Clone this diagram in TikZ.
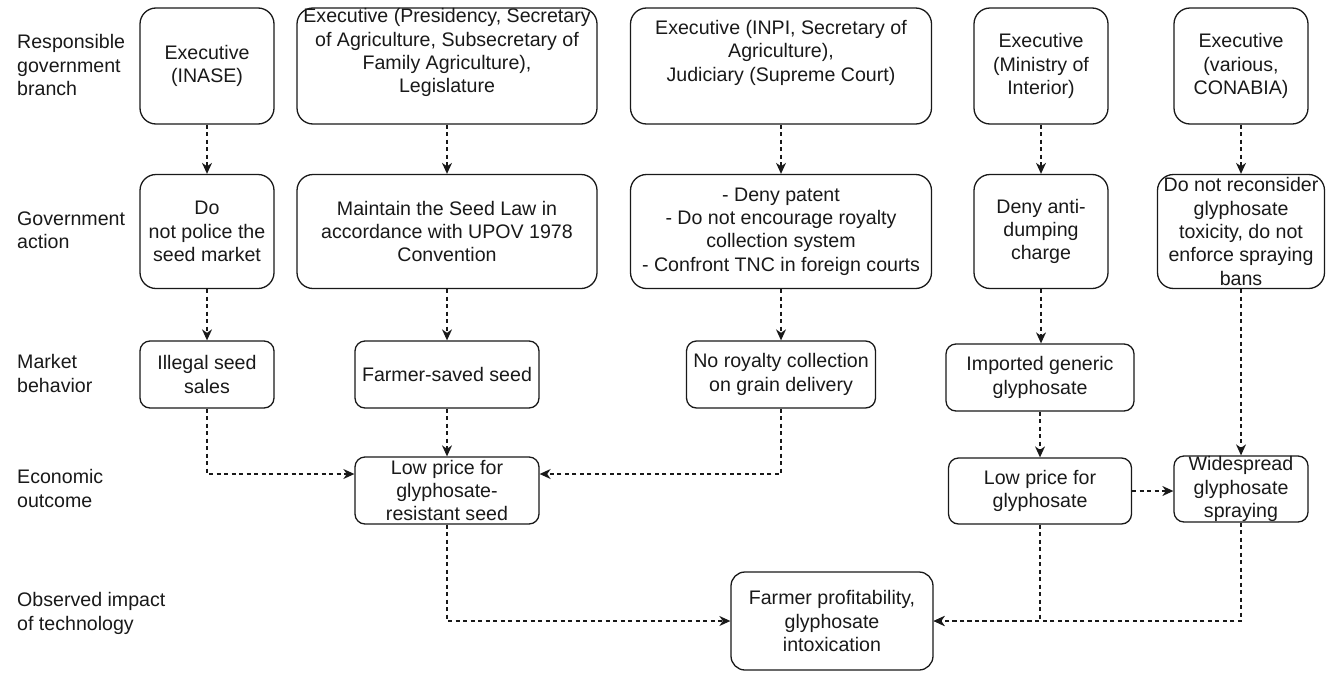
\documentclass[tikz,border=0pt]{standalone}
\usepackage{fontspec}
\setmainfont{Liberation Sans}
\usetikzlibrary{arrows.meta}
\begin{document}
\begin{tikzpicture}[x=1pt,y=-1pt,
  every node/.style={font=\fontsize{19.6}{23.4}\selectfont, text=black!90},
  box/.style={draw=black!90, line width=1.3pt, align=center, inner sep=0pt, rounded corners=16pt},
  lowbox/.style={box, rounded corners=10pt},
  rowlabel/.style={anchor=west, align=left, inner sep=0pt},
  link/.style={draw=black!90, line width=1.3pt, dash pattern=on 4pt off 3.5pt,
    -{Stealth[length=11pt,width=10pt,inset=3.5pt]}}
]
\useasboundingbox (0,0) rectangle (1335,672);

% row labels
\node[rowlabel] (l1) at (17,65) {Responsible\\government\\branch};
\node[rowlabel] (l2) at (17,230) {Government\\action};
\node[rowlabel] (l3) at (17,373.5) {Market\\behavior};
\node[rowlabel] (l4) at (17,488.5) {Economic\\outcome};
\node[rowlabel] (l5) at (17,613.5) {Observed impact\\of technology};

% row 1
\node[box, minimum width=134pt, minimum height=116pt] (a1) at (207,66) {Executive\\(INASE)};
\node[box, minimum width=300pt, minimum height=116pt] (b1) at (447,66) {Executive (Presidency, Secretary\\of Agriculture, Subsecretary of\\Family Agriculture),\\Legislature\\\strut};
\node[box, minimum width=301pt, minimum height=116pt] (c1) at (781,66) {Executive (INPI, Secretary of\\Agriculture),\\Judiciary (Supreme Court)\\\strut};
\node[box, minimum width=134pt, minimum height=116pt] (d1) at (1041,66) {Executive\\(Ministry of\\Interior)};
\node[box, minimum width=134pt, minimum height=116pt] (e1) at (1241,66) {Executive\\(various,\\CONABIA)};

% row 2
\node[box, minimum width=134pt, minimum height=114pt] (a2) at (207,231.5) {Do\\not police the\\seed market};
\node[box, minimum width=300pt, minimum height=114pt] (b2) at (447,231.5) {Maintain the Seed Law in\\accordance with UPOV 1978\\Convention};
\node[box, minimum width=301pt, minimum height=114pt] (c2) at (781,231.5) {- Deny patent\\- Do not encourage royalty\\collection system\\- Confront TNC in foreign courts};
\node[box, minimum width=134pt, minimum height=114pt] (d2) at (1041,231.5) {Deny anti-\\dumping\\charge};
\node[box, minimum width=167pt, minimum height=114pt] (e2) at (1241,231.5) {Do not reconsider\\glyphosate\\toxicity, do not\\enforce spraying\\bans};

% row 3
\node[lowbox, minimum width=134pt, minimum height=67pt] (a3) at (207,374.5) {Illegal seed\\sales};
\node[lowbox, minimum width=184pt, minimum height=67pt] (b3) at (447,374.5) {Farmer-saved seed};
\node[lowbox, minimum width=189pt, minimum height=67pt] (c3) at (781,374.5) {No royalty collection\\on grain delivery};
\node[lowbox, minimum width=188pt, minimum height=67pt] (d3) at (1040,377.5) {Imported generic\\glyphosate};

% row 4
\node[lowbox, minimum width=184pt, minimum height=67pt] (b4) at (447,490.5) {Low price for\\glyphosate-\\resistant seed};
\node[lowbox, minimum width=183pt, minimum height=66pt] (d4) at (1040,491) {Low price for\\glyphosate};
\node[lowbox, minimum width=134pt, minimum height=66pt] (e4) at (1241,489) {Widespread\\glyphosate\\spraying};

% row 5
\node[box, rounded corners=14pt, minimum width=202pt, minimum height=98pt] (f) at (832,621) {Farmer profitability,\\glyphosate\\intoxication};

% connectors
\draw[link] (a1) -- (a2);
\draw[link] (b1) -- (b2);
\draw[link] (c1) -- (c2);
\draw[link] (d1) -- (d2);
\draw[link] (e1) -- (e2);
\draw[link] (a2) -- (a3);
\draw[link] (b2) -- (b3);
\draw[link] (c2) -- (c3);
\draw[link] (d2.south) -- (d3.north -| d2.south);
\draw[link] (e2) -- (e4);
\draw[link] (b3) -- (b4);
\draw[link] (d3) -- (d4);
\coordinate (j1) at ([yshift=16.5pt]b4.west);
\coordinate (j2) at ([yshift=16.5pt]b4.east);
\draw[link] (a3.south) |- (j1);
\draw[link] (c3.south) |- (j2);
\draw[link] (d4.east) -- (e4.west |- d4.east);
\draw[link] (b4.south) |- (f.west);
\draw[link] (d4.south) |- (f.east);
\draw[link] (e4.south) |- (f.east);
\end{tikzpicture}
\end{document}
